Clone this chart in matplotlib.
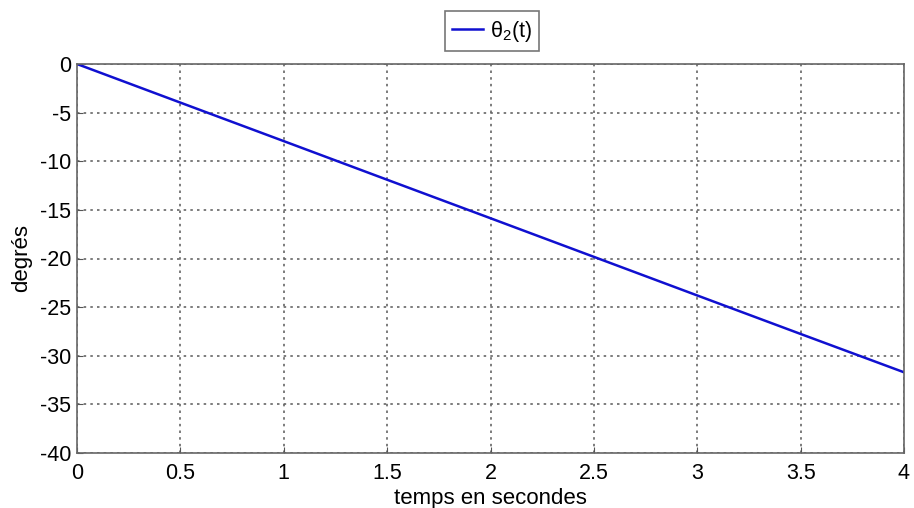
import matplotlib
matplotlib.use("Agg")
import matplotlib.pyplot as plt

t = [0, 0.5, 1.0, 1.5, 2.0, 2.5, 3.0, 3.5, 4.0]
theta2 = [0, -3.97, -7.93, -11.9, -15.86, -19.83, -23.8, -27.76, -31.7]
xticks = [0, 0.5, 1, 1.5, 2, 2.5, 3, 3.5, 4]
xticklabels = ["0", "0.5", "1", "1.5", "2", "2.5", "3", "3.5", "4"]
yticks = [0, -5, -10, -15, -20, -25, -30, -35, -40]
yticklabels = ["0", "-5", "-10", "-15", "-20", "-25", "-30", "-35", "-40"]

plt.rcParams['font.family'] = ['Liberation Sans', 'DejaVu Sans']
plt.rcParams['mathtext.default'] = 'regular'

fig = plt.figure(figsize=(9.14, 5.08), dpi=100)
ax = fig.add_axes([77/914, 1 - 453/508, (904-77)/914, (453-64)/508])
line, = ax.plot(t, theta2, color='#1010d0', lw=1.8, label=r'$\theta_2$(t)')
ax.set_xlim(0, 4)
ax.set_ylim(-40, 0)
ax.set_xticks(xticks)
ax.set_xticklabels(xticklabels)
ax.set_yticks(yticks)
ax.set_yticklabels(yticklabels)
ax.tick_params(direction='in', length=4, labelsize=15.5, colors='#555555', labelcolor='black')
ax.tick_params(axis='x', pad=7)
ax.tick_params(axis='y', pad=4)
for s in ax.spines.values():
    s.set_color('#666666')
    s.set_linewidth(1.2)
ax.grid(True, color='#666666', linestyle=(0, (1.5, 2.5)), linewidth=1.2)
ax.set_xlabel('temps en secondes', fontsize=16, labelpad=3)
ax.set_ylabel('degrés', fontsize=16, labelpad=6)
leg = fig.legend(handles=[line], loc='center', bbox_to_anchor=(492/914, 1 - 31/508),
                 fontsize=15.5, frameon=True, fancybox=False, handlelength=1.45,
                 handletextpad=0.3, borderpad=0.35)
leg.get_frame().set_edgecolor('#555555')
leg.get_frame().set_linewidth(1.2)
fig.savefig('out.png', dpi=100)
